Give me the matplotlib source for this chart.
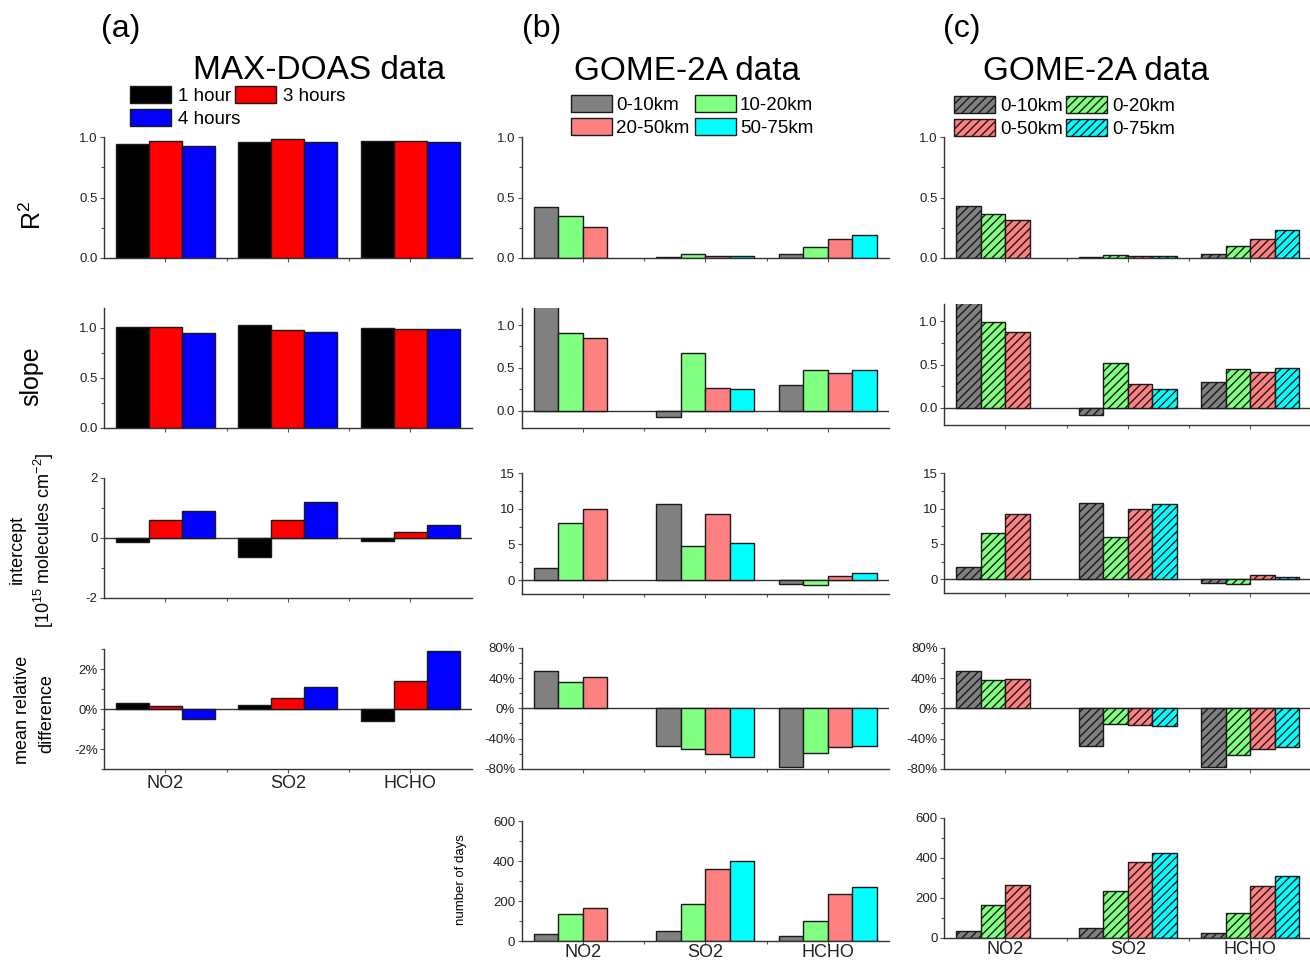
import numpy as np
import matplotlib
matplotlib.use('Agg')
import matplotlib.pyplot as plt
from matplotlib.patches import Patch
from matplotlib.ticker import MultipleLocator, FormatStrFormatter, PercentFormatter

plt.rcParams['font.family'] = ['Liberation Sans', 'DejaVu Sans']
plt.rcParams['mathtext.fontset'] = 'custom'
plt.rcParams['mathtext.rm'] = 'Liberation Sans'
plt.rcParams['mathtext.it'] = 'Liberation Sans:italic'
plt.rcParams['axes.unicode_minus'] = False
plt.rcParams['hatch.linewidth'] = 1.0

nan = np.nan
species = ['NO2', 'SO2', 'HCHO']

# MAX-DOAS comparisons, one row per averaging window (1 h, 3 h, 4 h)
maxdoas_labels = ['1 hour', '3 hours', '4 hours']
maxdoas_colors = ['#000000', '#ff0000', '#0000ff']
maxdoas_r2 = [[0.945, 0.961, 0.970],
              [0.967, 0.983, 0.972],
              [0.931, 0.961, 0.958]]
maxdoas_slope = [[1.010, 1.027, 1.003],
                 [1.007, 0.983, 0.993],
                 [0.950, 0.963, 0.987]]
maxdoas_intercept = [[-0.15, -0.63, -0.09],
                     [0.58, 0.59, 0.19],
                     [0.90, 1.18, 0.42]]
maxdoas_mrd = [[0.32, 0.18, -0.62],
               [0.17, 0.57, 1.40],
               [-0.48, 1.10, 2.88]]

# GOME-2A, distance rings
ring_labels = ['0-10km', '10-20km', '20-50km', '50-75km']
ring_r2 = [[0.424, 0.003, 0.028],
           [0.346, 0.028, 0.091],
           [0.252, 0.011, 0.152],
           [nan, 0.010, 0.186]]
ring_slope = [[1.25, -0.078, 0.300],
              [0.903, 0.669, 0.475],
              [0.844, 0.261, 0.436],
              [nan, 0.249, 0.479]]
ring_intercept = [[1.75, 10.75, -0.52],
                  [7.97, 4.76, -0.75],
                  [9.95, 9.29, 0.57],
                  [nan, 5.19, 0.99]]
ring_mrd = [[49.9, -49.9, -77.5],
            [35.5, -53.9, -59.3],
            [40.9, -60.2, -50.8],
            [nan, -64.3, -49.4]]
ring_days = [[33, 50, 23],
             [137, 183, 99],
             [165, 360, 236],
             [nan, 398, 271]]

# GOME-2A, full disks around the station
disk_labels = ['0-10km', '0-20km', '0-50km', '0-75km']
disk_r2 = [[0.427, 0.003, 0.028],
           [0.360, 0.019, 0.094],
           [0.310, 0.011, 0.155],
           [nan, 0.011, 0.227]]
disk_slope = [[1.25, -0.082, 0.303],
              [0.992, 0.521, 0.447],
              [0.872, 0.276, 0.409],
              [nan, 0.218, 0.463]]
disk_intercept = [[1.71, 10.80, -0.57],
                  [6.59, 5.97, -0.71],
                  [9.24, 9.95, 0.57],
                  [nan, 10.71, 0.24]]
disk_mrd = [[50.0, -50.0, -77.8],
            [37.7, -20.9, -62.5],
            [39.5, -22.3, -53.5],
            [nan, -23.6, -51.5]]
disk_days = [[33, 50, 23],
             [165, 233, 123],
             [265, 380, 260],
             [nan, 423, 310]]

gome_colors = ['#808080', '#80ff80', '#ff8080', '#00ffff']

W, H = 1310, 960
fig = plt.figure(figsize=(W / 100, H / 100), dpi=100)
EDGE = '#1a1a1a'


def add_axes(left, top, bottom, width=367.5):
    return fig.add_axes([left / W, 1 - bottom / H, width / W, (bottom - top) / H])


def draw_bars(ax, values, colors, width, hatch=None):
    x = np.arange(len(species))
    n = len(values)
    for i, (vals, c) in enumerate(zip(values, colors)):
        ax.bar(x + (i - (n - 1) / 2) * width, vals, width, color=c,
               edgecolor=EDGE, linewidth=1, hatch=hatch, zorder=2)


def style(ax, ylim, major, minor, fmt, zero=False, xlabels=False, xpad=1):
    ax.set_xlim(-0.5, 2.5)
    ax.set_ylim(*ylim)
    for s in ['top', 'right']:
        ax.spines[s].set_visible(False)
    for s in ['left', 'bottom']:
        ax.spines[s].set_color('#333333')
        ax.spines[s].set_linewidth(1)
    ax.yaxis.set_major_locator(MultipleLocator(major))
    ax.yaxis.set_minor_locator(MultipleLocator(minor))
    ax.yaxis.set_major_formatter(fmt)
    ax.set_xticks([0, 1, 2])
    ax.set_xticks([0.5, 1.5], minor=True)
    ax.set_xticklabels(species if xlabels else [])
    ax.tick_params(which='both', direction='out', color='#555555', labelcolor='#222222', width=0.8)
    ax.tick_params(which='major', length=3, pad=1.5, labelsize=9.5)
    ax.tick_params(which='minor', length=2)
    ax.tick_params(axis='x', labelsize=13, pad=xpad)
    if zero:
        ax.axhline(0, color='#333333', lw=1, zorder=1)


f1 = FormatStrFormatter('%.1f')
f0 = FormatStrFormatter('%d')
pct = PercentFormatter(100, decimals=0)

# column (a): MAX-DOAS
ax = add_axes(104, 137.3, 257.7)
draw_bars(ax, maxdoas_r2, maxdoas_colors, 0.27)
style(ax, (0, 1), 0.5, 0.25, f1)
ax = add_axes(104, 308, 427.7)
draw_bars(ax, maxdoas_slope, maxdoas_colors, 0.27)
style(ax, (0, 1.2), 0.5, 0.25, f1)
ax = add_axes(104, 477.7, 598)
draw_bars(ax, maxdoas_intercept, maxdoas_colors, 0.27)
style(ax, (-2, 2), 2, 1, f0, zero=True)
ax = add_axes(104, 649, 769)
draw_bars(ax, maxdoas_mrd, maxdoas_colors, 0.27)
style(ax, (-3, 3), 2, 1, pct, zero=True, xlabels=True)

# columns (b) rings and (c) disks
gome = [
    (521.5, None, [ring_r2, ring_slope, ring_intercept, ring_mrd, ring_days],
     [(137.3, 257.7), (308, 427.7), (473.3, 594.3), (648, 768.7), (821, 941)]),
    (944, '////', [disk_r2, disk_slope, disk_intercept, disk_mrd, disk_days],
     [(137.3, 257.7), (304, 425), (473.3, 593.3), (648, 768.7), (818, 938)]),
]
row_axis = [((0, 1), 0.5, 0.25, f1, False),
            ((-0.2, 1.2), 0.5, 0.25, f1, True),
            ((-2, 15), 5, 2.5, f0, True),
            ((-80, 80), 40, 20, pct, True),
            ((0, 600), 200, 100, f0, False)]
for left, hatch, rows, boxes in gome:
    for k, (vals, (top, bottom), (ylim, mj, mn, fmt, zero)) in enumerate(zip(rows, boxes, row_axis)):
        ax = add_axes(left, top, bottom)
        draw_bars(ax, vals, gome_colors, 0.2, hatch=hatch)
        style(ax, ylim, mj, mn, fmt, zero=zero, xlabels=(k == 4), xpad=-0.5)

# panel letters and titles
for x, s in [(121, '(a)'), (542, '(b)'), (962, '(c)')]:
    fig.text(x / W, 1 - 37 / H, s, ha='center', va='baseline', fontsize=23)
fig.text(319 / W, 1 - 79 / H, 'MAX-DOAS data', ha='center', va='baseline', fontsize=24)
fig.text(687 / W, 1 - 80 / H, 'GOME-2A data', ha='center', va='baseline', fontsize=24)
fig.text(1096 / W, 1 - 80 / H, 'GOME-2A data', ha='center', va='baseline', fontsize=24)

# row labels
fig.text(33 / W, 1 - 215 / H, 'R$^2$', rotation=90, ha='center', va='center', fontsize=18)
fig.text(31 / W, 1 - 376 / H, 'slope', rotation=90, ha='center', va='center', fontsize=18)
fig.text(17 / W, 1 - 549 / H, 'intercept', rotation=90, ha='center', va='center', fontsize=13)
fig.text(44 / W, 1 - 540 / H, '[10$^{15}$ molecules cm$^{-2}$]', rotation=90,
         ha='center', va='center', fontsize=13)
fig.text(23 / W, 1 - 710 / H, 'mean relative', rotation=90, ha='center', va='center', fontsize=13)
fig.text(47 / W, 1 - 714 / H, 'difference', rotation=90, ha='center', va='center', fontsize=13)
fig.text(461 / W, 1 - 880 / H, 'number of days', rotation=90, ha='center', va='center', fontsize=9.5)


# legends
def legend(labels, colors, order, x, y, textpad, colspace, hatch=None):
    handles = [Patch(facecolor=c, edgecolor=EDGE, linewidth=1, hatch=hatch) for c in colors]
    fig.legend([handles[i] for i in order], [labels[i] for i in order],
               loc='upper left', bbox_to_anchor=(x / W, 1 - y / H), ncol=2,
               frameon=False, fontsize=13.5, handlelength=2.2, handleheight=1.05,
               handletextpad=textpad, labelspacing=0.2, columnspacing=colspace,
               borderpad=0, borderaxespad=0)


legend(maxdoas_labels, maxdoas_colors, [0, 2, 1], 130, 86, 0.37, -0.3)
legend(ring_labels, gome_colors, [0, 2, 1, 3], 571, 95, 0.21, 0.27)
legend(disk_labels, gome_colors, [0, 2, 1, 3], 954, 96, 0.27, 0.13, hatch='////')

fig.savefig('out.png', dpi=100)
